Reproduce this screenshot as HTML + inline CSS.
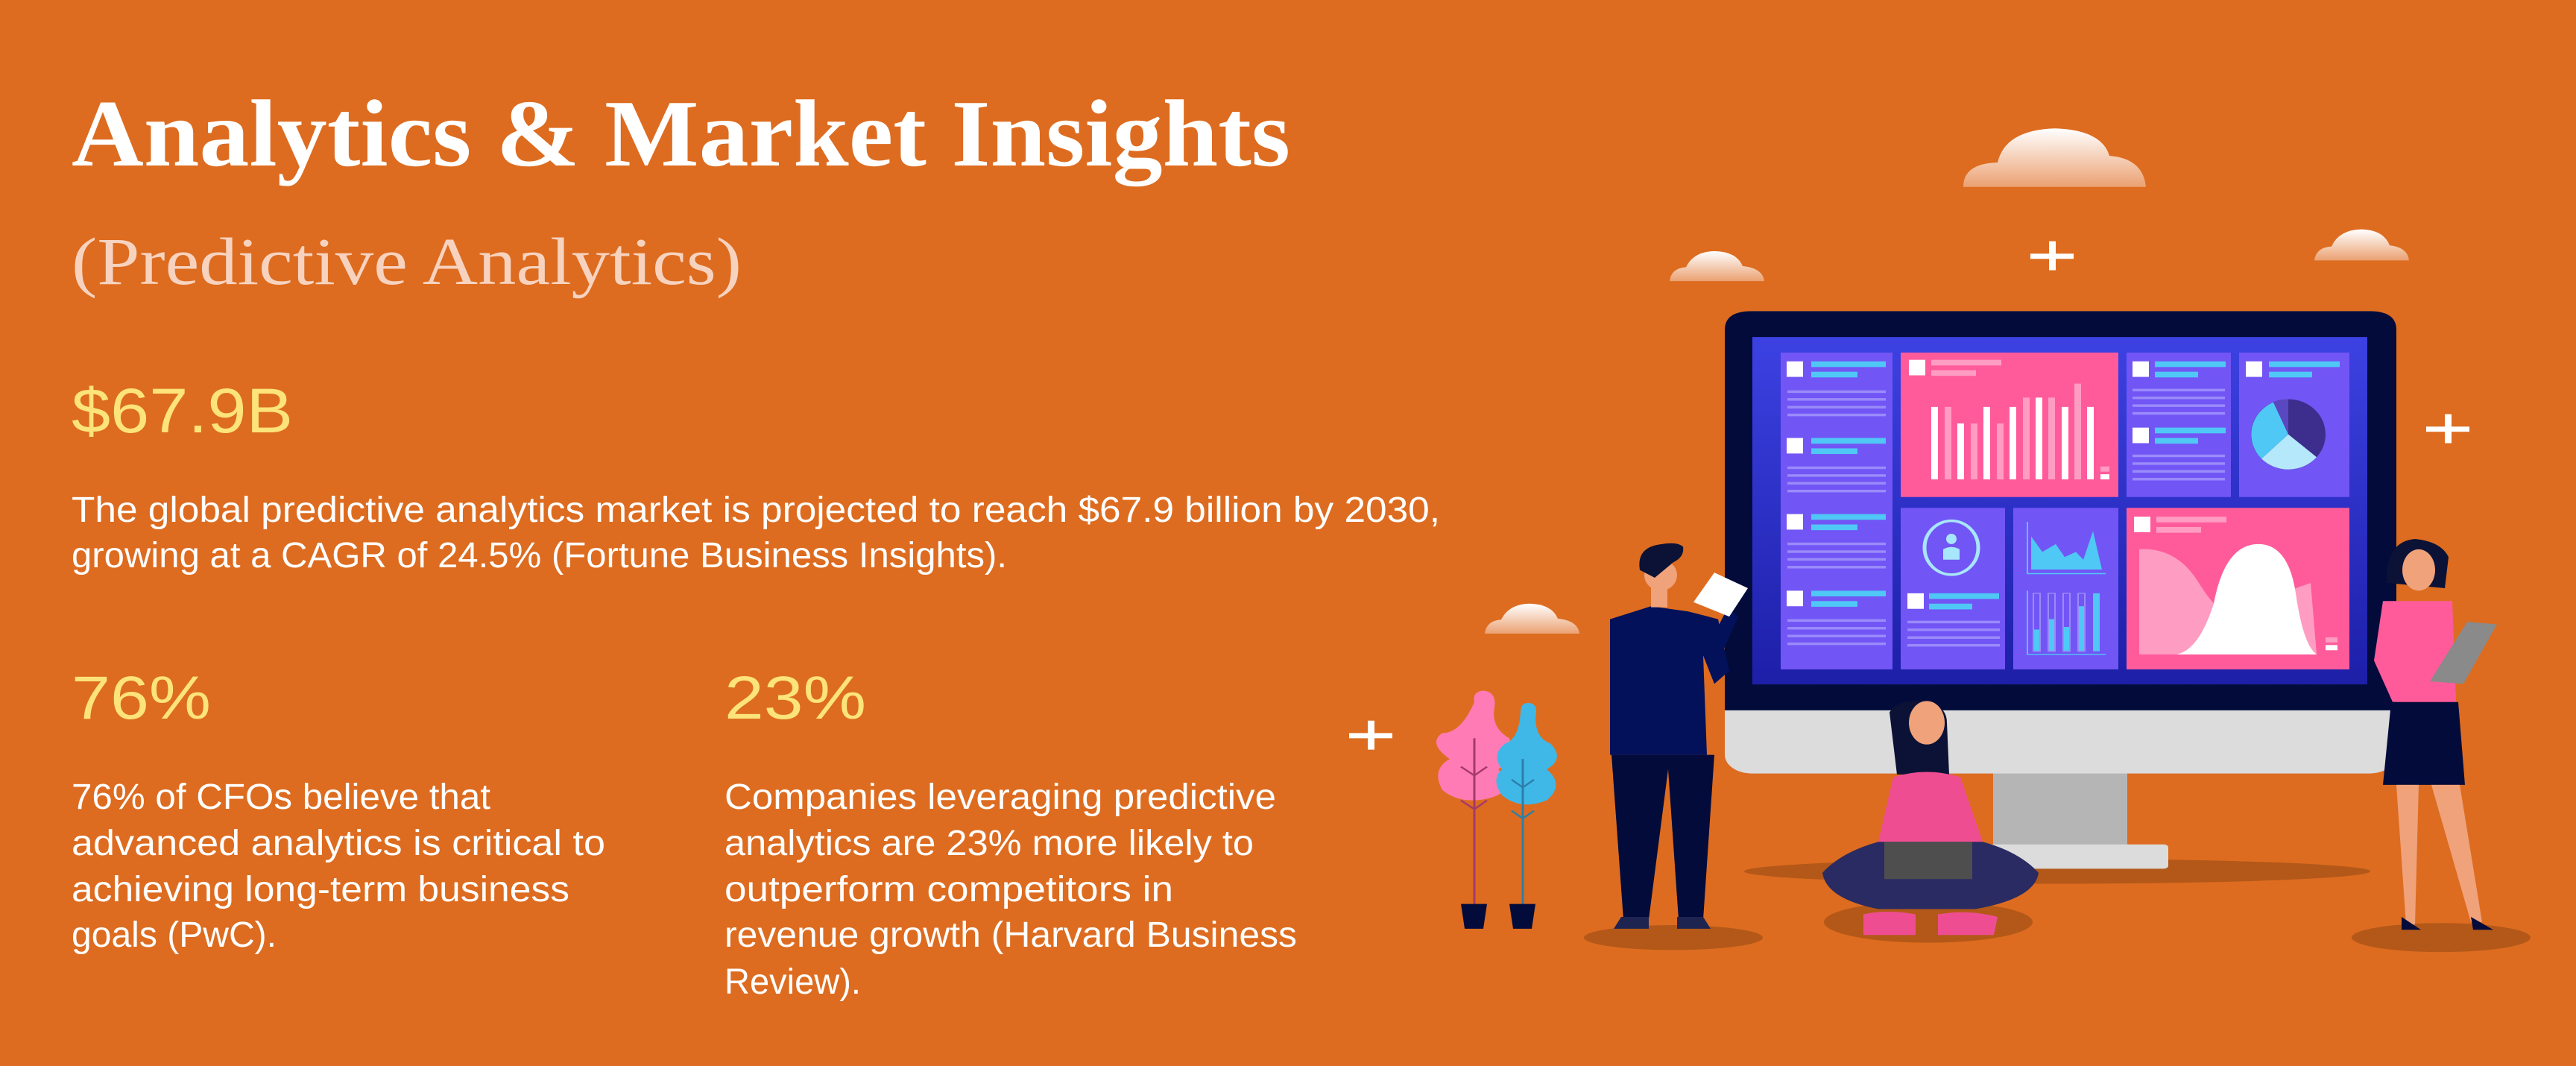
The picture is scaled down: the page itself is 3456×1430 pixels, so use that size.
<!DOCTYPE html>
<html><head><meta charset="utf-8"><style>
html,body{margin:0;padding:0;background:#DD6C20;overflow:hidden}
svg{display:block}
</style></head><body>
<svg width="3456" height="1430" viewBox="0 0 3456 1430" xmlns="http://www.w3.org/2000/svg">
<defs>
<linearGradient id="scr" x1="0" y1="0" x2="0" y2="1"><stop offset="0" stop-color="#3C41E2"/><stop offset="1" stop-color="#1D1FA8"/></linearGradient>
<linearGradient id="cl" x1="0" y1="0" x2="0" y2="1"><stop offset="0" stop-color="#FFFFFF"/><stop offset="1" stop-color="#EBA172"/></linearGradient>
</defs>
<rect width="3456" height="1430" fill="#DD6C20"/>
<g font-family="Liberation Serif, serif">
<text x="96" y="222" font-size="128" font-weight="bold" fill="#fff" textLength="1635" lengthAdjust="spacingAndGlyphs">Analytics &amp; Market Insights</text>
<text x="96" y="381" font-size="90" fill="#F7D3BF" textLength="899" lengthAdjust="spacingAndGlyphs">(Predictive Analytics)</text>
</g>
<g font-family="Liberation Sans, sans-serif">
<text x="96" y="580" font-size="84" fill="#FCE47A" textLength="297" lengthAdjust="spacingAndGlyphs">$67.9B</text>
<g font-size="48" fill="#fff">
<text x="96" y="700" textLength="1836" lengthAdjust="spacingAndGlyphs">The global predictive analytics market is projected to reach $67.9 billion by 2030,</text>
<text x="96" y="761" textLength="1255" lengthAdjust="spacingAndGlyphs">growing at a CAGR of 24.5% (Fortune Business Insights).</text>
<text x="96" y="1085" textLength="562" lengthAdjust="spacingAndGlyphs">76% of CFOs believe that</text>
<text x="96" y="1147" textLength="716" lengthAdjust="spacingAndGlyphs">advanced analytics is critical to</text>
<text x="96" y="1209" textLength="668" lengthAdjust="spacingAndGlyphs">achieving long-term business</text>
<text x="96" y="1270" textLength="275" lengthAdjust="spacingAndGlyphs">goals (PwC).</text>
<text x="972" y="1085" textLength="740" lengthAdjust="spacingAndGlyphs">Companies leveraging predictive</text>
<text x="972" y="1147" textLength="710" lengthAdjust="spacingAndGlyphs">analytics are 23% more likely to</text>
<text x="972" y="1209" textLength="602" lengthAdjust="spacingAndGlyphs">outperform competitors in</text>
<text x="972" y="1270" textLength="768" lengthAdjust="spacingAndGlyphs">revenue growth (Harvard Business</text>
<text x="972" y="1333" textLength="183" lengthAdjust="spacingAndGlyphs">Review).</text>
</g>
<text x="96" y="964" font-size="82" fill="#FCE47A" textLength="187" lengthAdjust="spacingAndGlyphs">76%</text>
<text x="972" y="964" font-size="82" fill="#FCE47A" textLength="190" lengthAdjust="spacingAndGlyphs">23%</text>
</g>

<g transform="translate(0,150) scale(1,0.6945) translate(0,-150)">
<!-- clouds -->
<g fill="url(#cl)">
<path d="M2634 295 Q2634 250 2680 248 Q2690 185 2757 182 Q2820 185 2830 235 Q2875 240 2879 295 Z"/>
<path d="M2240 477 Q2242 452 2262 450 Q2272 420 2300 419 Q2330 420 2338 448 Q2365 452 2367 477 Z"/>
<path d="M3105 437 Q3107 412 3128 410 Q3138 378 3168 377 Q3198 378 3206 408 Q3230 412 3232 437 Z"/>
<path d="M1992 1158 Q1994 1133 2014 1131 Q2024 1101 2052 1100 Q2082 1101 2090 1129 Q2117 1133 2119 1158 Z"/>
</g>
<!-- pluses -->
<g fill="#fff">
<rect x="2749" y="400" width="9" height="56"/><rect x="2724" y="424" width="58" height="10"/>
<rect x="3280" y="734" width="9" height="56"/><rect x="3255" y="758" width="58" height="10"/>
<rect x="1835" y="1326" width="9" height="56"/><rect x="1810" y="1350" width="58" height="10"/>
</g>

<!-- shadows -->
<g fill="#B35818">
<ellipse cx="2760" cy="1617" rx="420" ry="24"/>
<ellipse cx="2245" cy="1745" rx="120" ry="24"/>
<ellipse cx="2587" cy="1715" rx="140" ry="40"/>
<ellipse cx="3275" cy="1745" rx="120" ry="28"/>
</g>

<!-- monitor -->
<rect x="2674" y="1420" width="180" height="150" fill="#B5B5B5"/>
<rect x="2634" y="1565" width="275" height="47" rx="6" fill="#DCDCDC"/>
<rect x="2314" y="535" width="901" height="893" rx="36" fill="#DCDCDC"/>
<path d="M2350 535 H3179 Q3215 535 3215 571 V1306 H2314 V571 Q2314 535 2350 535 Z" fill="#030B3B"/>
<rect x="2351" y="585" width="825" height="671" fill="url(#scr)"/>
<g fill="#7255F5">
<rect x="2389" y="615" width="150" height="612"/>
<rect x="2853" y="615" width="140" height="279"/>
<rect x="3004" y="615" width="148" height="279"/>
<rect x="2550" y="915" width="140" height="312"/>
<rect x="2701" y="915" width="141" height="312"/>
</g>
<rect x="2550" y="615" width="292" height="279" fill="#FF5B9B"/>
<rect x="2853" y="915" width="299" height="312" fill="#FF5B9B"/>
<g>
<g fill="#fff"><rect x="2397" y="632" width="22" height="30"/><rect x="2397" y="780" width="22" height="30"/><rect x="2397" y="927" width="22" height="30"/><rect x="2397" y="1075" width="22" height="30"/></g>
<g fill="#4FC8F5"><rect x="2430" y="632" width="100" height="11"/><rect x="2430" y="652" width="62" height="11"/><rect x="2430" y="780" width="100" height="11"/><rect x="2430" y="800" width="62" height="11"/><rect x="2430" y="927" width="100" height="11"/><rect x="2430" y="947" width="62" height="11"/><rect x="2430" y="1075" width="100" height="11"/><rect x="2430" y="1095" width="62" height="11"/></g>
<g fill="#9A8BFA"><rect x="2398" y="688" width="132" height="5"/><rect x="2398" y="703" width="132" height="5"/><rect x="2398" y="718" width="132" height="5"/><rect x="2398" y="733" width="132" height="5"/>
<rect x="2398" y="835" width="132" height="5"/><rect x="2398" y="850" width="132" height="5"/><rect x="2398" y="865" width="132" height="5"/><rect x="2398" y="880" width="132" height="5"/>
<rect x="2398" y="982" width="132" height="5"/><rect x="2398" y="997" width="132" height="5"/><rect x="2398" y="1012" width="132" height="5"/><rect x="2398" y="1027" width="132" height="5"/>
<rect x="2398" y="1130" width="132" height="5"/><rect x="2398" y="1145" width="132" height="5"/><rect x="2398" y="1160" width="132" height="5"/><rect x="2398" y="1175" width="132" height="5"/></g>
</g>
<rect x="2561" y="629" width="22" height="30" fill="#fff"/>
<rect x="2591" y="629" width="94" height="11" fill="#FF9CC2"/><rect x="2591" y="649" width="60" height="11" fill="#FF9CC2"/>
<g fill="#fff"><rect x="2591" y="720" width="9" height="140"/><rect x="2626" y="752" width="9" height="108"/><rect x="2661" y="720" width="9" height="140"/><rect x="2696" y="720" width="9" height="140"/><rect x="2731" y="702" width="9" height="158"/><rect x="2766" y="720" width="9" height="140"/><rect x="2800" y="720" width="9" height="140"/></g>
<g fill="#FF9CC2"><rect x="2609" y="720" width="9" height="140"/><rect x="2644" y="752" width="9" height="108"/><rect x="2679" y="752" width="9" height="108"/><rect x="2714" y="702" width="9" height="158"/><rect x="2748" y="702" width="9" height="158"/><rect x="2783" y="675" width="9" height="185"/></g>
<rect x="2818" y="835" width="12" height="10" fill="#FF9CC2"/><rect x="2818" y="850" width="12" height="10" fill="#fff"/>
<g fill="#fff"><rect x="2861" y="632" width="22" height="30"/><rect x="2861" y="760" width="22" height="30"/></g>
<g fill="#4FC8F5"><rect x="2891" y="632" width="95" height="11"/><rect x="2891" y="652" width="58" height="11"/><rect x="2891" y="760" width="95" height="11"/><rect x="2891" y="780" width="58" height="11"/></g>
<g fill="#9A8BFA"><rect x="2861" y="685" width="124" height="5"/><rect x="2861" y="700" width="124" height="5"/><rect x="2861" y="715" width="124" height="5"/><rect x="2861" y="730" width="124" height="5"/><rect x="2861" y="812" width="124" height="5"/><rect x="2861" y="827" width="124" height="5"/><rect x="2861" y="842" width="124" height="5"/><rect x="2861" y="857" width="124" height="5"/></g>
<rect x="3013" y="632" width="22" height="30" fill="#fff"/>
<rect x="3044" y="632" width="95" height="11" fill="#4FC8F5"/><rect x="3044" y="652" width="58" height="11" fill="#4FC8F5"/>
<ellipse cx="3070" cy="773" rx="50" ry="68" fill="#3D2E8E"/>
<path d="M3070 773 L3108 817 A50 68 0 0 1 3034 820 Z" fill="#B5E8FB"/>
<path d="M3070 773 L3034 820 A50 68 0 0 1 3050 711 Z" fill="#4FC8F5"/>
<path d="M3070 773 L3050 711 A50 68 0 0 1 3070 705 Z" fill="#5A48C0"/>
<ellipse cx="2618" cy="992" rx="36" ry="52" fill="none" stroke="#A8E6FB" stroke-width="5"/>
<ellipse cx="2618" cy="975" rx="7" ry="10" fill="#A8E6FB"/><path d="M2607 1015 V995 Q2618 986 2629 995 V1015 Z" fill="#A8E6FB"/>
<rect x="2559" y="1080" width="22" height="30" fill="#fff"/>
<rect x="2588" y="1080" width="94" height="11" fill="#4FC8F5"/><rect x="2588" y="1100" width="58" height="11" fill="#4FC8F5"/>
<g fill="#9A8BFA"><rect x="2559" y="1133" width="124" height="5"/><rect x="2559" y="1148" width="124" height="5"/><rect x="2559" y="1163" width="124" height="5"/><rect x="2559" y="1178" width="124" height="5"/></g>
<path d="M2725 1034 L2725 970 L2740 1000 L2758 985 L2770 1010 L2785 1000 L2795 1015 L2808 960 L2820 1034 Z" fill="#4FC8F5"/>
<path d="M2720 942 V1042 H2825" fill="none" stroke="#4FC8F5" stroke-width="2"/>
<path d="M2720 1075 V1198 H2825" fill="none" stroke="#4FC8F5" stroke-width="2"/>
<g fill="#4FC8F5"><rect x="2728" y="1150" width="9" height="42"/><rect x="2748" y="1130" width="9" height="62"/><rect x="2768" y="1145" width="9" height="47"/><rect x="2788" y="1105" width="9" height="87"/><rect x="2808" y="1080" width="9" height="112"/></g>
<g fill="none" stroke="#9A8BFA" stroke-width="2"><rect x="2728" y="1080" width="9" height="112"/><rect x="2748" y="1080" width="9" height="112"/><rect x="2768" y="1080" width="9" height="112"/><rect x="2788" y="1080" width="9" height="112"/></g>
<rect x="2863" y="932" width="22" height="30" fill="#fff"/>
<rect x="2893" y="932" width="94" height="11" fill="#FF9CC2"/><rect x="2893" y="952" width="60" height="11" fill="#FF9CC2"/>
<path d="M2870 1198 V995 Q2920 990 2950 1060 Q2980 1130 3000 1120 Q3040 1090 3100 1060 L3108 1198 Z" fill="#FF9CC2"/>
<path d="M2920 1198 Q2950 1190 2970 1100 Q2985 985 3030 985 Q3070 985 3080 1080 Q3090 1180 3108 1198 Z" fill="#fff"/>
<rect x="3120" y="1165" width="16" height="10" fill="#FF9CC2"/><rect x="3120" y="1180" width="16" height="10" fill="#fff"/>

<!-- plants -->
<path d="M1978 1290 Q1975 1270 1990 1268 Q2008 1270 2005 1300 Q2000 1340 2025 1360 Q2035 1400 2010 1420 Q2035 1460 2000 1475 Q1960 1490 1935 1460 Q1920 1420 1945 1400 Q1915 1370 1935 1350 Q1960 1350 1978 1290 Z" fill="#FF7BB5"/>
<path d="M2040 1310 Q2040 1290 2052 1292 Q2064 1294 2060 1320 Q2060 1360 2080 1370 Q2100 1400 2075 1420 Q2100 1450 2075 1480 Q2040 1500 2015 1470 Q2000 1440 2015 1420 Q2000 1390 2020 1370 Q2038 1360 2040 1310 Z" fill="#3FB8E8"/>
<g stroke="#A33A6A" stroke-width="3" fill="none"><path d="M1978 1360 V1680 M1960 1415 L1978 1432 L1995 1415 M1960 1480 L1978 1497 L1995 1480"/></g>
<g stroke="#2C7FA8" stroke-width="3" fill="none"><path d="M2043 1400 V1680 M2028 1440 L2043 1455 L2058 1440 M2028 1500 L2043 1515 L2058 1500"/></g>
<path d="M1960 1680 H1995 L1990 1728 H1965 Z" fill="#030B3B"/>
<path d="M2025 1680 H2060 L2055 1728 H2030 Z" fill="#030B3B"/>

<!-- man -->
<path d="M2160 1130 L2215 1105 L2265 1115 L2305 1130 L2320 1230 L2300 1255 L2285 1200 L2290 1392 L2160 1392 Z" fill="#02115A"/>
<path d="M2162 1392 H2300 L2285 1710 H2252 L2238 1420 L2212 1710 H2178 Z" fill="#030B3B"/>
<path d="M2175 1705 H2212 V1728 H2165 Z M2250 1705 H2285 L2295 1728 H2250 Z" fill="#1E2450"/>
<path d="M2285 1200 L2318 1108 L2332 1125 L2300 1230 Z" fill="#02115A"/>
<path d="M2272 1097 L2300 1040 L2345 1070 L2320 1125 Z" fill="#fff"/>
<ellipse cx="2228" cy="1045" rx="22" ry="30" fill="#F0A27A"/>
<path d="M2200 1035 Q2195 990 2230 985 Q2250 980 2258 990 Q2260 1010 2245 1020 L2220 1050 Z" fill="#0B1236"/>
<rect x="2215" y="1062" width="22" height="45" fill="#F0A27A"/>
<!-- sitting woman -->
<path d="M2535 1310 Q2545 1285 2580 1288 Q2612 1295 2612 1330 L2615 1430 L2545 1430 Z" fill="#0B1236"/>
<ellipse cx="2585" cy="1330" rx="24" ry="42" fill="#F0A27A"/>
<path d="M2540 1435 Q2585 1415 2630 1435 L2660 1560 L2520 1560 Z" fill="#EE4E91"/>
<path d="M2520 1560 Q2470 1580 2445 1620 Q2450 1670 2520 1690 L2650 1690 Q2730 1670 2735 1620 Q2710 1580 2660 1560 Z" fill="#2A2B62"/>
<rect x="2528" y="1560" width="118" height="72" fill="#4E4E4E"/>
<path d="M2500 1700 Q2530 1690 2570 1700 L2570 1740 H2500 Z M2600 1700 Q2640 1690 2680 1705 L2675 1740 H2600 Z" fill="#EE4E91"/>
<!-- standing woman -->
<path d="M3202 1060 Q3200 980 3240 975 Q3275 980 3285 1010 L3280 1070 Z" fill="#0B1236"/>
<ellipse cx="3245" cy="1035" rx="22" ry="40" fill="#F0A27A"/>
<path d="M3197 1095 L3290 1095 L3295 1290 L3210 1290 L3185 1210 Z" fill="#FF5B9B"/>
<path d="M3208 1290 H3298 L3307 1450 H3197 Z" fill="#030B3B"/>
<path d="M3215 1450 H3245 L3240 1720 H3228 Z M3262 1450 H3300 L3330 1715 H3315 Z" fill="#F0A27A"/>
<path d="M3222 1705 L3248 1730 H3222 Z M3315 1705 L3345 1730 H3318 Z" fill="#030B3B"/>
<path d="M3260 1250 L3310 1135 L3350 1140 L3305 1255 Z" fill="#8A8A8A"/>
</g>
</svg>
</body></html>
